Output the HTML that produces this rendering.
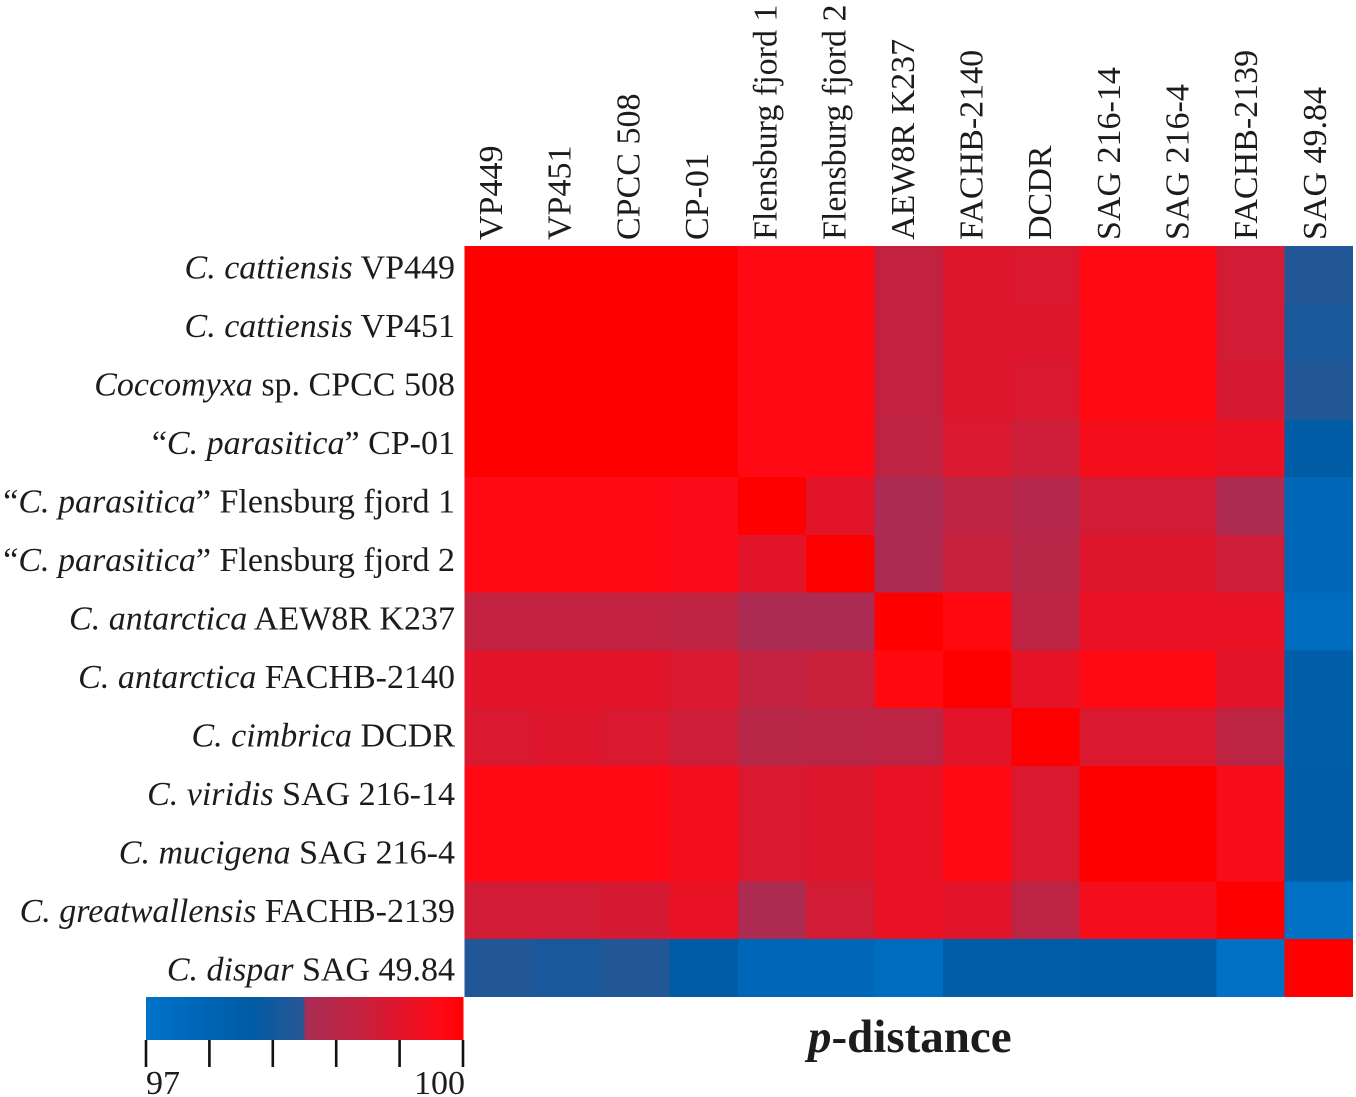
<!DOCTYPE html>
<html lang="en">
<head>
<meta charset="utf-8">
<title>p-distance heatmap</title>
<style>
html,body{margin:0;padding:0;background:#fff;width:1356px;height:1097px;overflow:hidden}
svg{display:block}
text{font-family:"Liberation Serif",serif;fill:#1c1c1c}
</style>
</head>
<body>
<svg id="chart" width="1356" height="1097" viewBox="0 0 1356 1097" xmlns="http://www.w3.org/2000/svg">
  <text x="808" y="1052" font-size="47" font-weight="bold"><tspan font-style="italic">p</tspan>-distance</text>
</svg>
<script>
const columnLabels = ["VP449","VP451","CPCC 508","CP-01","Flensburg fjord 1","Flensburg fjord 2","AEW8R K237","FACHB-2140","DCDR","SAG 216-14","SAG 216-4","FACHB-2139","SAG 49.84"];
const rowPrefix = ["","","","\u201C","\u201C","\u201C","","","","","","",""];
const rowItalic = ["C. cattiensis","C. cattiensis","Coccomyxa","C. parasitica","C. parasitica","C. parasitica","C. antarctica","C. antarctica","C. cimbrica","C. viridis","C. mucigena","C. greatwallensis","C. dispar"];
const rowSuffix = [" VP449"," VP451"," sp. CPCC 508","\u201D CP-01","\u201D Flensburg fjord 1","\u201D Flensburg fjord 2"," AEW8R K237"," FACHB-2140"," DCDR"," SAG 216-14"," SAG 216-4"," FACHB-2139"," SAG 49.84"];
const identity = [
  [100,100,100,100,99.8,99.8,99.0,99.35,99.3,99.8,99.8,99.2,98.4],
  [100,100,100,100,99.8,99.8,99.0,99.35,99.35,99.8,99.8,99.2,98.3],
  [100,100,100,100,99.8,99.8,99.0,99.35,99.3,99.8,99.8,99.25,98.4],
  [100,100,100,100,99.8,99.8,98.95,99.3,99.15,99.65,99.65,99.55,98.0],
  [99.8,99.8,99.8,99.75,100,99.4,98.55,98.95,98.75,99.2,99.2,98.6,97.5],
  [99.8,99.8,99.8,99.75,99.4,100,98.55,99.05,98.8,99.35,99.35,99.15,97.5],
  [99.0,99.0,99.0,98.95,98.55,98.55,100,99.85,98.9,99.5,99.5,99.5,97.3],
  [99.4,99.4,99.4,99.3,99.0,99.1,99.85,100,99.45,99.8,99.8,99.4,97.9],
  [99.3,99.35,99.3,99.15,98.8,98.85,98.9,99.4,100,99.3,99.3,98.9,97.9],
  [99.8,99.8,99.8,99.65,99.3,99.35,99.5,99.8,99.3,100,100,99.7,98.0],
  [99.8,99.8,99.8,99.65,99.3,99.35,99.5,99.8,99.3,100,100,99.7,98.0],
  [99.2,99.2,99.25,99.5,98.6,99.2,99.5,99.4,98.9,99.65,99.65,100,97.1],
  [98.4,98.3,98.4,98.0,97.5,97.5,97.3,97.9,97.9,98.0,98.0,97.1,100]
];
const scaleTicks = [97,97.6,98.2,98.8,99.4,100];
const scaleTickLabels = ["97","","","","","100"];
const blueStops = [[97,[0,116,200]],[97.5,[0,102,184]],[98,[0,92,164]],[98.5,[42,86,148]]];
const redStops = [[98.5,[168,44,85]],[99,[194,34,64]],[99.4,[226,20,42]],[99.8,[255,10,20]],[100,[255,0,0]]];

const NS = "http://www.w3.org/2000/svg";
const svg = document.getElementById("chart");
const plot = {left:464.5,right:1353,top:246,bottom:997};
const bar = {left:146,right:463,top:997,bottom:1040,tickEnd:1067};
const scaleMin = 97, scaleMax = 100;

function make(tag, attrs, parent){
  const el = document.createElementNS(NS, tag);
  for (const k in attrs) el.setAttribute(k, attrs[k]);
  (parent || svg).appendChild(el);
  return el;
}
function ramp(stops, v){
  if (v <= stops[0][0]) return stops[0][1];
  for (let i = 1; i < stops.length; i++){
    if (v <= stops[i][0]){
      const f = (v - stops[i-1][0]) / (stops[i][0] - stops[i-1][0]);
      return stops[i-1][1].map((c, k) => c + (stops[i][1][k] - c) * f);
    }
  }
  return stops[stops.length-1][1];
}
function color(v){
  const c = v < 98.5 ? ramp(blueStops, v) : ramp(redStops, v);
  return "rgb(" + c.map(Math.round).join(",") + ")";
}
const xCell = i => plot.left + (plot.right - plot.left) * i / columnLabels.length;
const yCell = i => plot.top + (plot.bottom - plot.top) * i / rowItalic.length;
const xBar = v => bar.left + (bar.right - bar.left) * (v - scaleMin) / (scaleMax - scaleMin);
const yRowLabel = i => 278.5 + 58.5 * i;
const xColLabel = i => 502 + 68.65 * i;

const cells = make("g", {"shape-rendering":"crispEdges"});


identity.forEach((row, r) => {
  row.forEach((v, c) => {
    const cell = make("rect", {x:xCell(c), y:yCell(r), width:xCell(c+1)-xCell(c), height:yCell(r+1)-yCell(r), fill:color(v)}, cells);
    
    
  });
});

rowItalic.forEach((name, i) => {
  const t = make("text", {x:455, y:yRowLabel(i), "text-anchor":"end", "font-size":34, "xml:space":"preserve"});
  
  
  const a = make("tspan", {}, t); a.textContent = rowPrefix[i];
  const b = make("tspan", {"font-style":"italic"}, t); b.textContent = name;
  const c = make("tspan", {}, t); c.textContent = rowSuffix[i];
});

columnLabels.forEach((name, i) => {
  const x = xColLabel(i);
  const t = make("text", {x:x, y:240, "font-size":34, transform:"rotate(-90 " + x + " 240)"});
  
  
  t.textContent = name;
});

const legend = make("g", {});


const legendSteps = 80;
for (let s = 0; s < legendSteps; s++){
  const v0 = scaleMin + (scaleMax - scaleMin) * s / legendSteps;
  const v1 = scaleMin + (scaleMax - scaleMin) * (s + 1) / legendSteps;
  const seg = make("rect", {x:xBar(v0), y:bar.top, width:xBar(v1)-xBar(v0)+0.5, height:bar.bottom-bar.top, fill:color((v0+v1)/2), "shape-rendering":"crispEdges"}, legend);
  
  
}
scaleTicks.forEach((v, i) => {
  const tick = make("line", {x1:xBar(v), x2:xBar(v), y1:bar.bottom, y2:bar.tickEnd, stroke:"#111", "stroke-width":2.6}, legend);
  
  
  if (scaleTickLabels[i]) {
    const last = i === scaleTicks.length - 1;
    const lab = make("text", {x:last ? xBar(v) + 2 : xBar(v), y:1094, "font-size":34, "text-anchor":last ? "end" : "start"}, legend);
    
    
    lab.textContent = scaleTickLabels[i];
  }
});
</script>
</body>
</html>
